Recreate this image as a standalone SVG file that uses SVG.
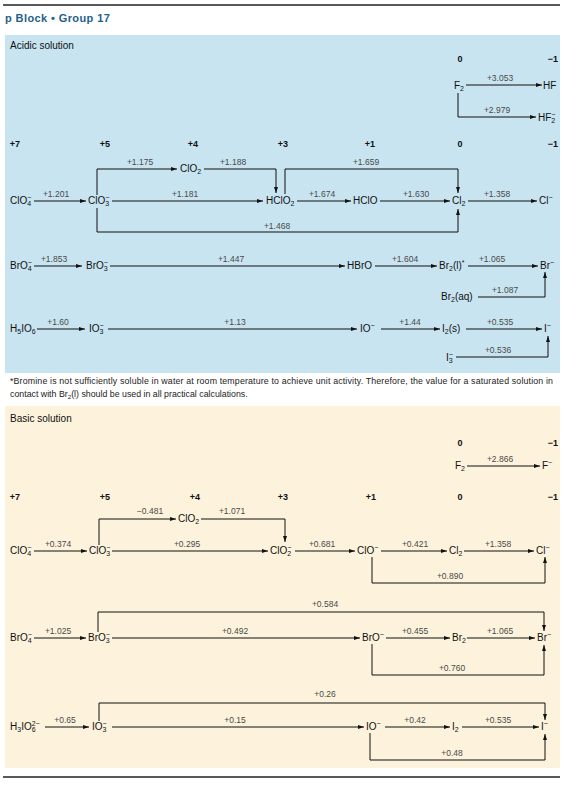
<svg xmlns="http://www.w3.org/2000/svg" width="565" height="785" viewBox="0 0 565 785">
<style>
text{font-family:"Liberation Sans",Arial,sans-serif;fill:#111}
.sp{font-size:10px}
.lb{font-size:8.5px;fill:#4a4a4a;text-anchor:middle}
.ox{font-size:9px;font-weight:bold;text-anchor:middle}
.s{font-size:7px}
.ln{fill:none;stroke:#111;stroke-width:1}
.ar{marker-end:url(#ah)}
.ft{font-size:8.8px;fill:#222}
</style>
<defs>
<marker id="ah" viewBox="0 0 6 4" refX="6" refY="2" markerWidth="6" markerHeight="4" markerUnits="userSpaceOnUse" orient="auto"><path d="M0,0 L6,2 L0,4 z" fill="#111"/></marker>
</defs>
<rect x="0" y="0" width="565" height="785" fill="#fff"/>
<line x1="3" y1="5" x2="560" y2="5" stroke="#222" stroke-width="1.3"/>
<text x="5" y="22" style="font-size:11px;font-weight:bold;fill:#1f5f8b;letter-spacing:0.4px">p Block  •  Group 17</text>
<rect x="5" y="35" width="555" height="338" fill="#c8e4f0"/>
<text x="10" y="49" style="font-size:10px">Acidic solution</text>
<rect x="5" y="406" width="555" height="362" fill="#fdf3dc"/>
<text x="10" y="422" style="font-size:10px">Basic solution</text>

<g id="connectors">
<path class="ln ar" d="M466,85 H542"/>
<path class="ln ar" d="M458,93 V117 H536"/>
<path class="ln ar" d="M34,201 H86"/>
<path class="ln ar" d="M112,201 H263"/>
<path class="ln ar" d="M297,201 H351"/>
<path class="ln ar" d="M380,201 H450"/>
<path class="ln ar" d="M468,201 H537"/>
<path class="ln ar" d="M97,195 V169 H177"/>
<path class="ln ar" d="M204,169 H276 V193"/>
<path class="ln ar" d="M285,194 V169 H458 V193"/>
<path class="ln ar" d="M97,208 V232 H458 V209"/>
<path class="ln ar" d="M34,266 H82"/>
<path class="ln ar" d="M110,266 H345"/>
<path class="ln ar" d="M375,266 H437"/>
<path class="ln ar" d="M468,266 H538"/>
<path class="ln ar" d="M478,297 H545 V272"/>
<path class="ln ar" d="M37,329 H85"/>
<path class="ln ar" d="M108,329 H357"/>
<path class="ln ar" d="M381,329 H440"/>
<path class="ln ar" d="M466,329 H542"/>
<path class="ln ar" d="M456,357 H548 V336"/>
<path class="ln ar" d="M467,466 H540"/>
<path class="ln ar" d="M34,551 H87"/>
<path class="ln ar" d="M99,545 V519 H176"/>
<path class="ln ar" d="M201,519 H285 V542"/>
<path class="ln ar" d="M112,551 H268"/>
<path class="ln ar" d="M295,551 H355"/>
<path class="ln ar" d="M381,551 H447"/>
<path class="ln ar" d="M464,551 H534"/>
<path class="ln ar" d="M372,557 V583 H545 V557"/>
<path class="ln ar" d="M34,638 H86"/>
<path class="ln ar" d="M98,632 V612 H544 V631"/>
<path class="ln ar" d="M112,638 H360"/>
<path class="ln ar" d="M386,638 H450"/>
<path class="ln ar" d="M467,638 H535"/>
<path class="ln ar" d="M372,644 V675 H544 V645"/>
<path class="ln ar" d="M45,727 H89"/>
<path class="ln ar" d="M99,721 V703 H545 V720"/>
<path class="ln ar" d="M112,727 H364"/>
<path class="ln ar" d="M385,727 H450"/>
<path class="ln ar" d="M462,727 H539"/>
<path class="ln ar" d="M370,733 V760 H545 V734"/>
</g>

<g id="acidic-labels">
<text class="ox" x="460" y="62">0</text><text class="ox" x="553" y="62">−1</text>
<text class="lb" x="500" y="81">+3.053</text>
<text class="lb" x="497" y="113">+2.979</text>
<text class="ox" x="15" y="147">+7</text><text class="ox" x="105" y="147">+5</text><text class="ox" x="193" y="147">+4</text><text class="ox" x="283" y="147">+3</text><text class="ox" x="370" y="147">+1</text><text class="ox" x="460" y="147">0</text><text class="ox" x="553" y="147">−1</text>
<text class="lb" x="56" y="197">+1.201</text>
<text class="lb" x="185" y="197">+1.181</text>
<text class="lb" x="322" y="197">+1.674</text>
<text class="lb" x="416" y="197">+1.630</text>
<text class="lb" x="497" y="197">+1.358</text>
<text class="lb" x="140" y="165">+1.175</text>
<text class="lb" x="233" y="165">+1.188</text>
<text class="lb" x="366" y="165">+1.659</text>
<text class="lb" x="277" y="229">+1.468</text>
<text class="lb" x="54" y="262">+1.853</text>
<text class="lb" x="231" y="262">+1.447</text>
<text class="lb" x="405" y="262">+1.604</text>
<text class="lb" x="492" y="262">+1.065</text>
<text class="lb" x="505" y="293">+1.087</text>
<text class="lb" x="58" y="325">+1.60</text>
<text class="lb" x="235" y="325">+1.13</text>
<text class="lb" x="410" y="325">+1.44</text>
<text class="lb" x="500" y="325">+0.535</text>
<text class="lb" x="498" y="353">+0.536</text>
</g>

<g id="F2-a"><text class="sp" x="454" y="89">F<tspan class="s" dy="2">2</tspan></text></g>
<g id="HF"><text class="sp" x="543" y="89">HF</text></g>
<g id="HF2-"><text class="sp" x="538" y="121">HF<tspan class="s" dy="2">2</tspan><tspan class="s" dx="-3.9" dy="-6.5">−</tspan></text></g>
<g id="ClO4-a"><text class="sp" x="10" y="204">ClO<tspan class="s" dy="2">4</tspan><tspan class="s" dx="-3.9" dy="-6.5">−</tspan></text></g>
<g id="ClO3-a"><text class="sp" x="88" y="204">ClO<tspan class="s" dy="2">3</tspan><tspan class="s" dx="-3.9" dy="-6.5">−</tspan></text></g>
<g id="ClO2-a"><text class="sp" x="180" y="172">ClO<tspan class="s" dy="2">2</tspan></text></g>
<g id="HClO2-a"><text class="sp" x="266" y="204">HClO<tspan class="s" dy="2">2</tspan></text></g>
<g id="HClO-a"><text class="sp" x="353" y="204">HClO</text></g>
<g id="Cl2-a"><text class="sp" x="452" y="204">Cl<tspan class="s" dy="2">2</tspan></text></g>
<g id="Cl--a"><text class="sp" x="539" y="204">Cl<tspan class="s" dy="-4">−</tspan></text></g>
<g id="BrO4-a"><text class="sp" x="10" y="269">BrO<tspan class="s" dy="2">4</tspan><tspan class="s" dx="-3.9" dy="-6.5">−</tspan></text></g>
<g id="BrO3-a"><text class="sp" x="86" y="269">BrO<tspan class="s" dy="2">3</tspan><tspan class="s" dx="-3.9" dy="-6.5">−</tspan></text></g>
<g id="HBrO-a"><text class="sp" x="347" y="269">HBrO</text></g>
<g id="Br2l-a"><text class="sp" x="439" y="269">Br<tspan class="s" dy="2">2</tspan><tspan dy="-2">(l)</tspan><tspan class="s" dy="-4">*</tspan></text></g>
<g id="Br--a"><text class="sp" x="540" y="269">Br<tspan class="s" dy="-4">−</tspan></text></g>
<g id="Br2aq-a"><text class="sp" x="441" y="300">Br<tspan class="s" dy="2">2</tspan><tspan dy="-2">(aq)</tspan></text></g>
<g id="H5IO6-a"><text class="sp" x="10" y="332">H<tspan class="s" dy="2">5</tspan><tspan dy="-2">IO</tspan><tspan class="s" dy="2">6</tspan></text></g>
<g id="IO3-a"><text class="sp" x="89" y="332">IO<tspan class="s" dy="2">3</tspan><tspan class="s" dx="-3.9" dy="-6.5">−</tspan></text></g>
<g id="IO-a"><text class="sp" x="360" y="332">IO<tspan class="s" dy="-4">−</tspan></text></g>
<g id="I2s-a"><text class="sp" x="442" y="332">I<tspan class="s" dy="2">2</tspan><tspan dy="-2">(s)</tspan></text></g>
<g id="I--a"><text class="sp" x="544" y="332">I<tspan class="s" dy="-4">−</tspan></text></g>
<g id="I3-a"><text class="sp" x="446" y="361">I<tspan class="s" dy="2">3</tspan><tspan class="s" dx="-3.9" dy="-6.5">−</tspan></text></g>

<text class="ft" x="10" y="384" textLength="543" lengthAdjust="spacing">*Bromine is not sufficiently soluble in water at room temperature to achieve unit activity. Therefore, the value for a saturated solution in</text>
<text class="ft" x="10" y="397">contact with Br<tspan style="font-size:6.2px" dy="1.5">2</tspan><tspan dy="-1.5">(l) should be used in all practical calculations.</tspan></text>

<g id="basic-labels">
<text class="ox" x="460" y="446">0</text><text class="ox" x="553" y="446">−1</text>
<text class="lb" x="500" y="462">+2.866</text>
<text class="ox" x="15" y="500">+7</text><text class="ox" x="105" y="500">+5</text><text class="ox" x="195" y="500">+4</text><text class="ox" x="283" y="500">+3</text><text class="ox" x="371" y="500">+1</text><text class="ox" x="460" y="500">0</text><text class="ox" x="553" y="500">−1</text>
<text class="lb" x="58" y="547">+0.374</text>
<text class="lb" x="150" y="514">−0.481</text>
<text class="lb" x="232" y="514">+1.071</text>
<text class="lb" x="187" y="547">+0.295</text>
<text class="lb" x="322" y="547">+0.681</text>
<text class="lb" x="415" y="547">+0.421</text>
<text class="lb" x="498" y="547">+1.358</text>
<text class="lb" x="450" y="579">+0.890</text>
<text class="lb" x="325" y="607">+0.584</text>
<text class="lb" x="58" y="634">+1.025</text>
<text class="lb" x="235" y="634">+0.492</text>
<text class="lb" x="415" y="634">+0.455</text>
<text class="lb" x="500" y="634">+1.065</text>
<text class="lb" x="452" y="671">+0.760</text>
<text class="lb" x="325" y="697">+0.26</text>
<text class="lb" x="65" y="723">+0.65</text>
<text class="lb" x="235" y="723">+0.15</text>
<text class="lb" x="415" y="723">+0.42</text>
<text class="lb" x="498" y="723">+0.535</text>
<text class="lb" x="452" y="756">+0.48</text>
</g>

<g id="F2-b"><text class="sp" x="455" y="469">F<tspan class="s" dy="2">2</tspan></text></g>
<g id="F--b"><text class="sp" x="542" y="469">F<tspan class="s" dy="-4">−</tspan></text></g>
<g id="ClO4-b"><text class="sp" x="10" y="554">ClO<tspan class="s" dy="2">4</tspan><tspan class="s" dx="-3.9" dy="-6.5">−</tspan></text></g>
<g id="ClO3-b"><text class="sp" x="89" y="554">ClO<tspan class="s" dy="2">3</tspan><tspan class="s" dx="-3.9" dy="-6.5">−</tspan></text></g>
<g id="ClO2-b"><text class="sp" x="178" y="522">ClO<tspan class="s" dy="2">2</tspan></text></g>
<g id="ClO2--b"><text class="sp" x="270" y="554">ClO<tspan class="s" dy="2">2</tspan><tspan class="s" dx="-3.9" dy="-6.5">−</tspan></text></g>
<g id="ClO--b"><text class="sp" x="357" y="554">ClO<tspan class="s" dy="-4">−</tspan></text></g>
<g id="Cl2-b"><text class="sp" x="449" y="554">Cl<tspan class="s" dy="2">2</tspan></text></g>
<g id="Cl--b"><text class="sp" x="536" y="554">Cl<tspan class="s" dy="-4">−</tspan></text></g>
<g id="BrO4-b"><text class="sp" x="10" y="641">BrO<tspan class="s" dy="2">4</tspan><tspan class="s" dx="-3.9" dy="-6.5">−</tspan></text></g>
<g id="BrO3-b"><text class="sp" x="88" y="641">BrO<tspan class="s" dy="2">3</tspan><tspan class="s" dx="-3.9" dy="-6.5">−</tspan></text></g>
<g id="BrO--b"><text class="sp" x="362" y="641">BrO<tspan class="s" dy="-4">−</tspan></text></g>
<g id="Br2-b"><text class="sp" x="452" y="641">Br<tspan class="s" dy="2">2</tspan></text></g>
<g id="Br--b"><text class="sp" x="537" y="641">Br<tspan class="s" dy="-4">−</tspan></text></g>
<g id="H3IO6-b"><text class="sp" x="10" y="730">H<tspan class="s" dy="2">3</tspan><tspan dy="-2">IO</tspan><tspan class="s" dy="2">6</tspan><tspan class="s" dx="-3.9" dy="-6.5">2−</tspan></text></g>
<g id="IO3-b"><text class="sp" x="92" y="730">IO<tspan class="s" dy="2">3</tspan><tspan class="s" dx="-3.9" dy="-6.5">−</tspan></text></g>
<g id="IO--b"><text class="sp" x="366" y="730">IO<tspan class="s" dy="-4">−</tspan></text></g>
<g id="I2-b"><text class="sp" x="452" y="730">I<tspan class="s" dy="2">2</tspan></text></g>
<g id="I--b"><text class="sp" x="541" y="730">I<tspan class="s" dy="-4">−</tspan></text></g>

<line x1="3" y1="777" x2="560" y2="777" stroke="#222" stroke-width="1.3"/>
</svg>
